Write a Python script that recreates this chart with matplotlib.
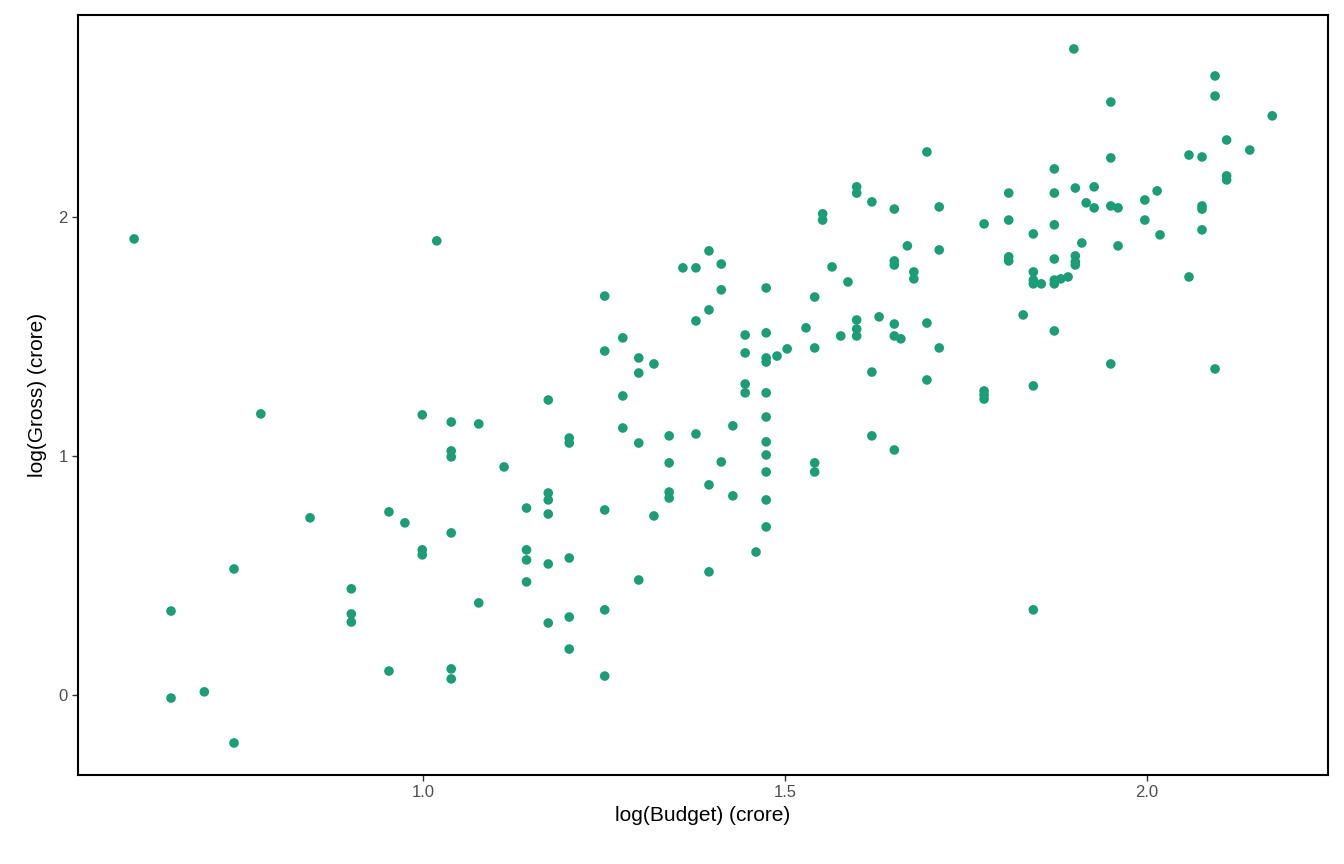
import matplotlib
matplotlib.use("Agg")
import matplotlib.pyplot as plt

plt.rcParams['font.family'] = ['Liberation Sans', 'DejaVu Sans']

groups = [
(0.601,[1.908]),(0.652,[0.351,-0.013]),(0.698,[0.013]),(0.739,[0.527,-0.201]),(0.776,[1.176]),
(0.844,[0.741]),(0.901,[0.444,0.339,0.305]),(0.953,[0.766,0.100]),(0.975,[0.720]),
(0.999,[0.607,0.586,1.172]),(1.019,[1.900]),(1.039,[1.142,1.021,0.996,0.678,0.109,0.067]),
(1.077,[1.134,0.385]),(1.112,[0.954]),(1.143,[0.782,0.607,0.565,0.473]),
(1.173,[1.234,0.845,0.816,0.757,0.548,0.301]),(1.202,[1.075,1.054,0.573,0.326,0.192]),
(1.251,[1.669,1.439,0.774,0.356,0.079]),(1.276,[1.494,1.251,1.117]),(1.298,[1.410,1.347,1.054,0.481]),
(1.319,[1.385,0.749]),(1.340,[1.084,0.971,0.849,0.824]),(1.359,[1.787]),(1.377,[1.787,1.565,1.092]),
(1.395,[1.858,1.611,0.879,0.515]),(1.412,[1.803,1.695,0.975]),(1.428,[1.126,0.833]),
(1.445,[1.506,1.431,1.264,1.301]),(1.460,[0.598]),
(1.474,[1.703,1.515,1.393,1.410,1.264,1.163,1.059,1.004,0.933,0.816,0.703]),
(1.489,[1.418]),(1.503,[1.448]),(1.529,[1.536]),(1.541,[1.665,1.452,0.971,0.933]),
(1.552,[2.013,1.987]),(1.565,[1.791]),(1.577,[1.502]),(1.587,[1.728]),
(1.599,[2.126,2.100,1.569,1.531,1.502]),(1.620,[2.063,1.351,1.084]),(1.630,[1.582]),
(1.651,[2.033,1.816,1.799,1.552,1.502,1.025]),(1.660,[1.490]),(1.669,[1.879]),(1.678,[1.770,1.741]),
(1.696,[2.272,1.556,1.318]),(1.713,[2.042,1.862,1.452]),(1.775,[1.971,1.272,1.255,1.238]),
(1.809,[2.100,1.987,1.833,1.816]),(1.829,[1.590]),(1.843,[1.929,1.770,1.736,1.720,1.293,0.356]),
(1.854,[1.720]),(1.872,[2.201,2.100,1.967,1.824,1.736,1.720,1.523]),(1.881,[1.741]),(1.891,[1.749]),
(1.899,[2.703]),(1.901,[2.121,1.837,1.812,1.799]),(1.910,[1.891]),(1.916,[2.059]),(1.927,[2.126,2.038]),
(1.950,[2.481,2.247,2.046,1.385]),(1.960,[2.038,1.879]),(1.997,[2.071,1.987]),(2.014,[2.109]),
(2.018,[1.925]),(2.058,[2.259,1.749]),(2.076,[2.251,2.046,2.033,1.946]),(2.094,[2.590,2.506,1.364]),
(2.110,[2.322,2.172,2.155]),(2.142,[2.280]),(2.173,[2.423]),
]
log_budget = [x for x, ys in groups for _ in ys]
log_gross = [y for _, ys in groups for y in ys]

fig = plt.figure(figsize=(13.44, 8.64), dpi=100)
ax = fig.add_axes([78/1344, 1-775/864, 1250/1344, 760/864])
ax.scatter(log_budget, log_gross, s=48, color="#1b9e77", edgecolors="none", zorder=3)
ax.set_xlim(0.5235, 2.25)
ax.set_ylim(-0.335, 2.845)
ax.set_xticks([1.0, 1.5, 2.0])
ax.set_xticklabels(["1.0", "1.5", "2.0"])
ax.set_yticks([0, 1, 2])
for s in ax.spines.values():
    s.set_linewidth(1.5)
    s.set_color("black")
ax.tick_params(colors="#333333", labelcolor="#4d4d4d", labelsize=12, length=4, width=1)
ax.set_xlabel("log(Budget) (crore)", fontsize=15, labelpad=4)
ax.set_ylabel("log(Gross) (crore)", fontsize=15, labelpad=8)
fig.savefig("out.png", dpi=100)
